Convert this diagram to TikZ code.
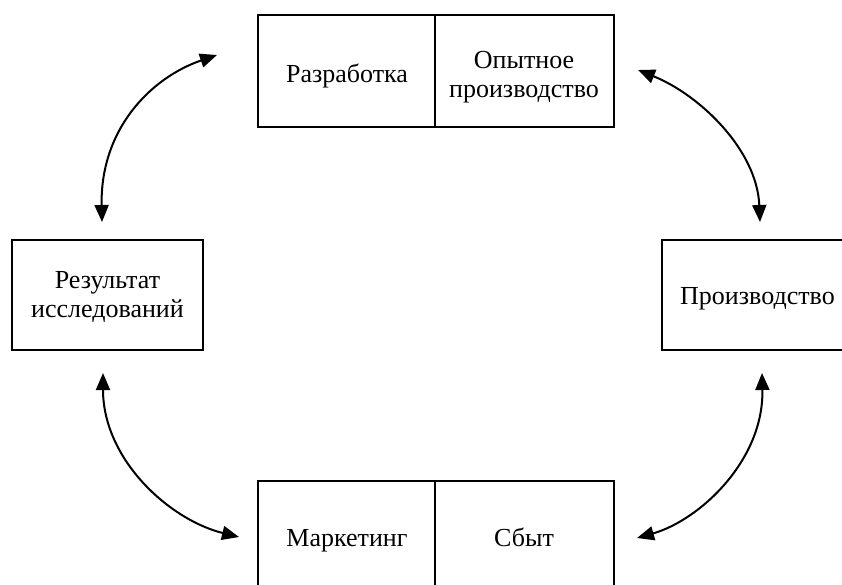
\documentclass[tikz,border=0pt]{standalone}
\usepackage{fontspec}
\setmainfont{Liberation Serif}
\usetikzlibrary{arrows.meta}
\begin{document}
\begin{tikzpicture}[x=1pt,y=-1pt,
  box/.style={draw,line width=1.6pt,inner sep=0pt},
  lbl/.style={font=\fontsize{26}{29}\selectfont,align=center,inner sep=0pt,anchor=base},
  conn/.style={line width=2pt,{Triangle[length=17pt,width=14pt]}-{Triangle[length=17pt,width=14pt]}}]
\useasboundingbox (0,0) rectangle (842,584);
\clip (0,0) rectangle (842,584);
% top box
\draw[box] (258,15) rectangle (614,127);
\draw[box] (435,15) -- (435,127);
\node[lbl] (razr) at (347,82) {Разработка};
\node[lbl] (opyt) at (524,97) {Опытное\\производство};
% bottom box
\draw[box] (258,481) rectangle (614,600);
\draw[box] (435,481) -- (435,600);
\node[lbl] (mark) at (347,546) {Маркетинг};
\node[lbl] (sbyt) at (524,546) {Сбыт};
% left box
\draw[box] (12,240) rectangle (203,350);
\node[lbl] (rez) at (107.5,317) {Результат\\исследований};
% right box
\draw[box] (662,240) rectangle (900,350);
\node[lbl,anchor=base west] (proizv) at (680,304) {Производство};
% arrow end points
\coordinate (a1) at (102,222);
\coordinate (a2) at (217,55);
\coordinate (b1) at (638,70);
\coordinate (b2) at (760,222);
\coordinate (c1) at (103,373);
\coordinate (c2) at (239,537);
\coordinate (d1) at (762,373);
\coordinate (d2) at (637,538);
\draw[conn] (a1) .. controls (100,130) and (150,78) .. (a2);
\draw[conn] (b1) .. controls (700,95) and (757,150) .. (b2);
\draw[conn] (c1) .. controls (103,460) and (170,520) .. (c2);
\draw[conn] (d1) .. controls (764,460) and (700,520) .. (d2);
\end{tikzpicture}
\end{document}
